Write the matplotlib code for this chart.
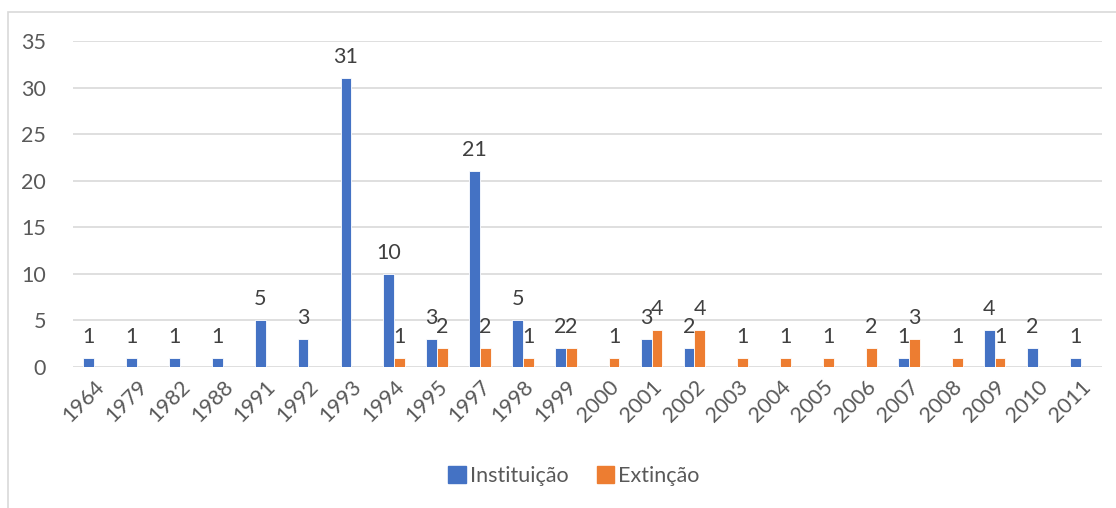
import matplotlib
matplotlib.use("Agg")
import matplotlib.pyplot as plt
import numpy as np
from matplotlib.patches import Patch, Rectangle

# anos e contagens por tipo de ato
anos = ["1964", "1979", "1982", "1988", "1991", "1992", "1993", "1994",
        "1995", "1997", "1998", "1999", "2000", "2001", "2002", "2003",
        "2004", "2005", "2006", "2007", "2008", "2009", "2010", "2011"]
instituicao = [1, 1, 1, 1, 5, 3, 31, 10, 3, 21, 5, 2, 0, 3, 2, 0, 0, 0, 0, 1, 0, 4, 2, 1]
extincao = [0, 0, 0, 0, 0, 0, 0, 1, 2, 2, 1, 2, 1, 4, 4, 1, 1, 1, 2, 3, 1, 1, 0, 0]

AZUL = "#4472C4"
LARANJA = "#ED7D31"
CINZA_TXT = "#595959"
CINZA_GRADE = "#D9D9D9"
FS = 15.5

plt.rcParams["font.family"] = ["Lato", "DejaVu Sans"]

fig = plt.figure(figsize=(11.16, 5.08), dpi=100)
ax = fig.add_axes([72.5 / 1116, 1 - 367 / 508, (1102 - 72.5) / 1116, (367 - 41) / 508])

# moldura do gráfico
fig.patches.append(Rectangle((8 / 1116, -0.1), 1.2, 1 - 12 / 508 + 0.1,
                             transform=fig.transFigure, fill=False,
                             edgecolor=CINZA_GRADE, linewidth=1.2))

x = np.arange(len(anos))
w = 0.25
b1 = ax.bar(x - w / 2, instituicao, w, color=AZUL, edgecolor="white", linewidth=0.6, zorder=3)
b2 = ax.bar(x + w / 2, extincao, w, color=LARANJA, edgecolor="white", linewidth=0.6, zorder=3)

for cont, vals in ((b1, instituicao), (b2, extincao)):
    ax.bar_label(cont, labels=[str(v) if v else "" for v in vals], padding=8,
                 fontsize=FS, color="#404040")

ax.set_xlim(-0.5, len(anos) - 0.5)
ax.set_ylim(0, 35)
ax.set_yticks(range(0, 36, 5))
ax.yaxis.grid(True, color=CINZA_GRADE, linewidth=1.2, zorder=0)
ax.set_axisbelow(True)
for s in ax.spines.values():
    s.set_visible(False)
ax.tick_params(length=0, labelsize=FS, colors=CINZA_TXT)
ax.tick_params(axis="y", pad=19)
ax.set_xticks(x)
ax.set_xticklabels(anos, rotation=45, ha="right", rotation_mode="anchor")
ax.tick_params(axis="x", pad=7)

handles = [Patch(color=AZUL, label="Instituição"), Patch(color=LARANJA, label="Extinção")]
fig.legend(handles=handles, loc="center", bbox_to_anchor=(574 / 1116, 1 - 476 / 508),
           ncol=2, frameon=False, fontsize=FS, handlelength=0.8, handleheight=0.8,
           handletextpad=0.2, columnspacing=1.3, labelcolor=CINZA_TXT)

fig.savefig("out.png", dpi=100)
